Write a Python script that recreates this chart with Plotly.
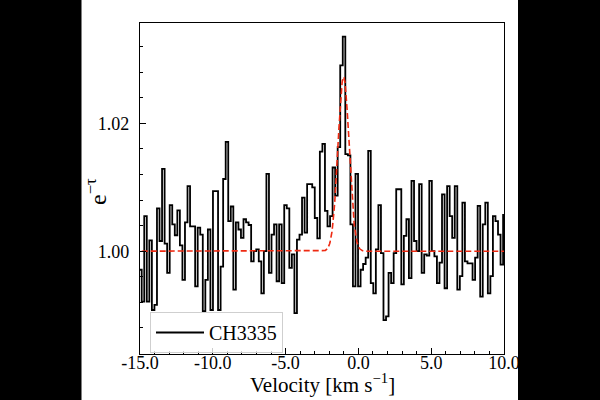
import numpy as np
import plotly.graph_objects as go

# ---- data ----
v_start = -15.058   # left edge of the first channel (km/s)
dv = 0.1748         # channel width (km/s)

ch3335 = [
    0.9971, 0.9921, 1.0055, 0.9921, 1.0017, 0.9908, 0.9916, 1.0067, 1.0016, 1.0129,
    1.0012, 0.9966, 1.0072, 1.0042, 1.0025, 1.0064, 1.0009, 0.9955, 1.0045, 1.0102,
    1.0039, 1.0039, 0.9945, 1.0037, 1.0026, 0.9906, 0.9955, 1.0034, 0.9908, 1.0094,
    1.0094, 0.9908, 0.9976, 1.0113, 1.0171, 1.0047, 1.0070, 0.9940, 1.0045, 1.0034,
    1.0021, 1.0050, 1.0045, 1.0041, 0.9984, 1.0000, 1.0003, 0.9984, 0.9934, 1.0000,
    1.0121, 0.9966, 1.0026, 1.0042, 0.9953, 1.0042, 0.9950, 1.0072, 1.0067, 0.9974,
    0.9995, 0.9903, 1.0018, 1.0026, 1.0084, 1.0029, 1.0105, 1.0105, 1.0100, 1.0052,
    1.0020, 1.0156, 1.0168, 1.0063, 1.0039, 1.0055, 1.0131, 1.0087, 1.0163, 1.0291,
    1.0336, 1.0152, 1.0150, 1.0042, 0.9945, 1.0121, 0.9945, 0.9971, 0.9980, 0.9990,
    1.0157, 0.9950, 0.9934, 1.0003, 1.0072, 0.9997, 0.9892, 0.9898, 0.9966, 0.9950,
    0.9997, 1.0097, 1.0097, 0.9948, 1.0024, 1.0050, 0.9958, 1.0110, 1.0016, 1.0000,
    1.0105, 0.9966, 0.9995, 0.9993, 1.0110, 1.0000, 0.9992, 0.9950, 0.9982, 1.0089,
    0.9942, 1.0102, 1.0055, 1.0021, 1.0102, 0.9940, 0.9961, 1.0076, 0.9984, 0.9981,
    0.9981, 0.9955, 0.9990, 1.0071, 0.9929, 1.0042, 1.0076, 0.9934, 0.9961, 1.0055,
    1.0047, 1.0026, 0.9979, 1.0057,
]

# Gaussian fit parameters
fit_amp = 0.0273
fit_center = -1.02
fit_sigma = 0.38

x_tickvals = [-15, -10, -5, 0, 5, 10]
x_ticktext = ["-15.0", "-10.0", "-5.0", "0.0", "5.0", "10.0"]
y_tickvals = [1.00, 1.02]
y_ticktext = ["1.00", "1.02"]

# ---- build figure ----
edges = v_start + dv * np.arange(len(ch3335) + 1)
y_step = ch3335 + [ch3335[-1]]

v_fit = np.linspace(-15.5, 10.5, 1200)
y_fit = 1 + fit_amp * np.exp(-0.5 * ((v_fit - fit_center) / fit_sigma) ** 2)

FONT = "Liberation Serif, Times New Roman, DejaVu Serif, serif"

fig = go.Figure()
fig.add_trace(go.Scatter(
    x=edges, y=y_step, mode="lines", name="CH3335",
    line=dict(shape="hv", color="black", width=1.8),
))
fig.add_trace(go.Scatter(
    x=v_fit, y=y_fit, mode="lines", showlegend=False,
    line=dict(color="#ee2a12", width=1.6, dash="6px,3px"),
))

# plot area geometry (pixels)
L, R, T, B = 140, 96, 23, 46
pw = 600 - L - R
ph = 400 - T - B

def px_to_paper_x(px):
    return (px - L) / pw

def px_to_paper_y(py):
    return (400 - B - py) / ph

fig.update_layout(
    width=600, height=400,
    margin=dict(l=L, r=R, t=T, b=B, pad=0, autoexpand=False),
    paper_bgcolor="white", plot_bgcolor="white",
    font=dict(family=FONT, color="black", size=18),
    showlegend=True,
    legend=dict(
        x=px_to_paper_x(150), y=px_to_paper_y(312), xanchor="left", yanchor="top",
        bgcolor="rgba(255,255,255,0.8)", bordercolor="#cfcfcf", borderwidth=1,
        font=dict(family=FONT, size=20, color="black"),
        itemwidth=48, tracegroupgap=0,
    ),
    xaxis=dict(
        range=[-15, 10], showline=True, mirror=True, linecolor="black", linewidth=1.2,
        showgrid=False, zeroline=False, automargin=False,
        ticks="inside", ticklen=6, tickwidth=1, tickcolor="black",
        tickmode="array", tickvals=x_tickvals, ticktext=x_ticktext,
        tickfont=dict(family=FONT, size=18),
        ticklabelstandoff=-8,
        minor=dict(ticks="inside", ticklen=3, tickwidth=1, tickcolor="black",
                   tickmode="array", tickvals=list(np.arange(-15, 10.5, 1.0)), showgrid=False),
    ),
    yaxis=dict(
        range=[0.98391, 1.03572], showline=True, mirror=True, linecolor="black", linewidth=1.2,
        showgrid=False, zeroline=False, automargin=False,
        ticks="inside", ticklen=6, tickwidth=1, tickcolor="black",
        tickmode="array", tickvals=y_tickvals, ticktext=y_ticktext,
        tickfont=dict(family=FONT, size=18),
        ticklabelstandoff=6,
        minor=dict(ticks="inside", ticklen=3, tickwidth=1, tickcolor="black",
                   tickmode="array", tickvals=list(np.round(np.arange(0.984, 1.0359, 0.004), 3)),
                   showgrid=False),
    ),
    annotations=[
        dict(text="Velocity [km s<sup>\u22121</sup>]", xref="paper", yref="paper",
             x=0.5, y=px_to_paper_y(384), xanchor="center", yanchor="middle",
             showarrow=False, font=dict(family=FONT, size=21, color="black")),
        dict(text="e<sup>\u2212\u03c4</sup>", xref="paper", yref="paper",
             x=px_to_paper_x(96), y=px_to_paper_y(192), xanchor="center", yanchor="middle",
             textangle=-90, showarrow=False, font=dict(family=FONT, size=24, color="black")),
    ],
    shapes=[
        dict(type="rect", xref="paper", yref="paper", layer="above",
             x0=-2, x1=px_to_paper_x(81.5), y0=-2, y1=3,
             fillcolor="black", line=dict(width=0)),
        dict(type="rect", xref="paper", yref="paper", layer="above",
             x0=px_to_paper_x(518), x1=3, y0=-2, y1=3,
             fillcolor="black", line=dict(width=0)),
    ],
)

fig.write_html("out.html")
